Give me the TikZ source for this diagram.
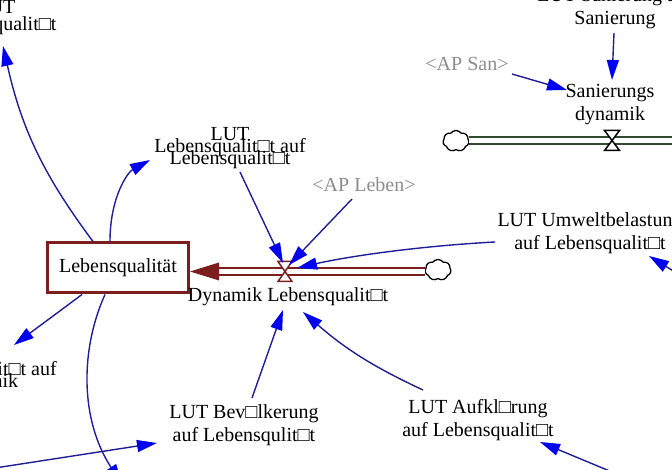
\documentclass[tikz,border=0pt]{standalone}
\usepackage{fontspec}
\setmainfont{Liberation Serif}
\usetikzlibrary{arrows.meta,shapes.symbols}
\definecolor{maroonc}{HTML}{7B1E1E}
\definecolor{pipegreen}{HTML}{2F4A2F}
\definecolor{linkblue}{HTML}{1E1E96}
\definecolor{headblue}{HTML}{0000F0}
\definecolor{shadowgray}{HTML}{8C8C8C}
\newcommand\tightfont{\fontsize{20}{12}\selectfont\lineskiplimit=-50pt\relax}
\begin{document}
\begin{tikzpicture}[x=1pt,y=-1pt,
  lbl/.style={font=\fontsize{20}{23}\selectfont, align=center, inner sep=0pt},
  tight/.style={font=\tightfont, align=center, inner sep=0pt},
  shadowlbl/.style={lbl, text=shadowgray},
  link/.style={draw=linkblue, line width=1.4pt, -{Triangle[length=20pt,width=12pt,color=headblue]}},
  stockbox/.style={draw=maroonc, line width=3pt, minimum width=141pt, minimum height=50pt, inner sep=0pt, fill=white, font=\fontsize{20}{23}\selectfont},
  pipe/.style={draw=#1, line width=1.9pt, double=white, double distance=4.3pt},
  valvesh/.style={draw=#1, line width=1.5pt, fill=white, line join=miter},
  cloudsh/.style={cloud, cloud puffs=7, cloud puff arc=110, aspect=1.2, draw=black, line width=1.3pt, fill=white, minimum width=26pt, minimum height=21pt, inner sep=0pt}
]
\useasboundingbox (0,0) rectangle (672,470);
\clip (0,0) rectangle (672,470);

% ---- stock and flow (Lebensqualitaet)
\node[stockbox] (lq) at (118,268) {Lebensqualität};
\node[cloudsh] (c1) at (438,270) {};
\coordinate (hb) at (219,271.5);
\coordinate (v1) at (285,271.5);
\draw[pipe=maroonc] (c1.west |- hb) -- (hb);
\fill[maroonc] (lq.east |- hb) -- ([yshift=9pt]hb) -- ([yshift=-9pt]hb) -- cycle;
\draw[valvesh=maroonc] (v1) ++(-7,-10) -- ++(14,0) -- ++(-14,20) -- ++(14,0) -- cycle;

% ---- green flow (Sanierung)
\node[cloudsh] (c2) at (456,141) {};
\coordinate (v2) at (612,140.5);
\coordinate (gend) at (690,140.5);
\draw[pipe=pipegreen] (c2.east |- v2) -- (gend);
\draw[valvesh=black] (v2) ++(-7.5,-10) -- ++(15,0) -- ++(-15,20) -- ++(15,0) -- cycle;

% ---- labels
\node[lbl] (dyn) at (288,297) {Dynamik Lebensqualit□t};
\node[shadowlbl] (apl) at (364,185) {<AP Leben>};
\node[lbl] (lutumw) at (590,233) {LUT Umweltbelastung\\auf Lebensqualit□t};
\node[tight] (lutlq) at (230,148) {LUT\\Lebensqualit□t auf\\Lebensqualit□t};
\node[lbl, font=\fontsize{20}{17}\selectfont] (tl) at (-4,18) {LUT\\Lebensqualit□t};
\node[tight] (bl) at (-19,371) {LUT\\Lebensqualit□t auf\\Dynamik};
\node[lbl] (lutbev) at (244,425) {LUT Bev□lkerung\\auf Lebensqulit□t};
\node[lbl] (lutauf) at (478,420) {LUT Aufkl□rung\\auf Lebensqualit□t};
\node[shadowlbl] (aps) at (467,64) {<AP San>};
\node[lbl] (sdyn) at (610,105) {Sanierungs\\dynamik};
\node[lbl] (lutsan) at (615,8) {LUT Sanierung auf\\Sanierung};

% ---- connector end points
\coordinate (lqt1) at ([xshift=-25pt]lq.north);
\coordinate (lqt2) at ([xshift=-8pt]lq.north);
\coordinate (lqb1) at ([xshift=-36pt]lq.south);
\coordinate (lqb2) at ([xshift=-13pt]lq.south);
\coordinate (tlt) at (3,46);
\coordinate (lutlqt) at (150,160);
\coordinate (blt) at (14,345);
\coordinate (offb) at (122,484);
\coordinate (lutlqs) at (240,172);
\coordinate (v1in1) at (283,263);
\coordinate (apls) at (352,199);
\coordinate (v1in2) at (289,265);
\coordinate (lutumws) at (495,242);
\coordinate (v1in3) at (297,268);
\coordinate (offr) at (688,280);
\coordinate (lutumwt) at (649,256);
\coordinate (lutbevs) at (252,398);
\coordinate (dynt1) at (283,310);
\coordinate (offl) at (-5,468);
\coordinate (lutbevt) at (157,443);
\coordinate (lutaufs) at (423,390);
\coordinate (dynt2) at (303,312);
\coordinate (offbr) at (612,472);
\coordinate (lutauft) at (540,442);
\coordinate (apss) at (512,74);
\coordinate (sdynt) at (567,90);
\coordinate (lutsans) at (614,33);
\coordinate (sdynt2) at (612,80);

% ---- links
\draw[link] (lqt1) to[bend left=12] (tlt);
\draw[link] (lqt2) .. controls +(0,-45) and +(-22,12) .. (lutlqt);
\draw[link] (lqb1) -- (blt);
\draw[link] (lqb2) .. controls (80,350) and (80,420) .. (offb);
\draw[link] (lutlqs) -- (v1in1);
\draw[link] (apls) -- (v1in2);
\draw[link] (lutumws) .. controls (420,246) and (350,256) .. (v1in3);
\draw[link] (offr) -- (lutumwt);
\draw[link] (lutbevs) -- (dynt1);
\draw[link] (offl) -- (lutbevt);
\draw[link] (lutaufs) to[bend left=8] (dynt2);
\draw[link] (offbr) -- (lutauft);
\draw[link] (apss) -- (sdynt);
\draw[link] (lutsans) -- (sdynt2);
\end{tikzpicture}
\end{document}
